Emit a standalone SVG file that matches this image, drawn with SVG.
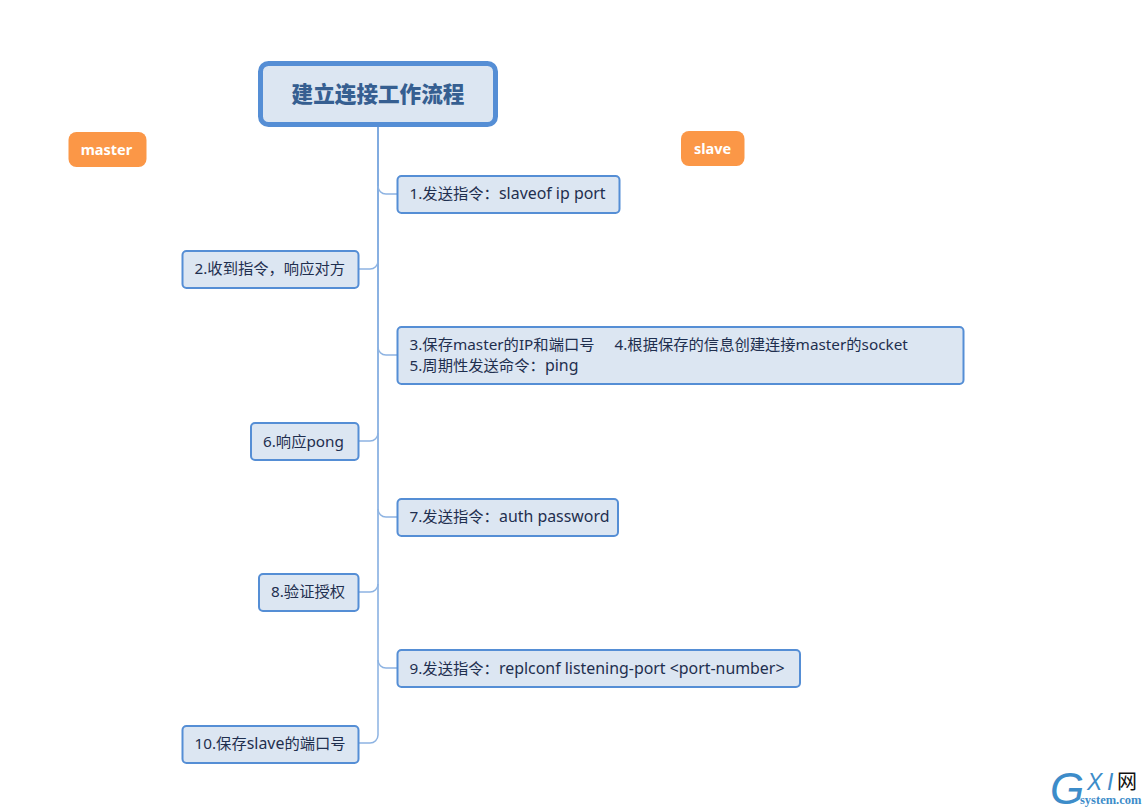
<svg xmlns="http://www.w3.org/2000/svg" width="1147" height="809" viewBox="0 0 1147 809">
<defs><linearGradient id="trunk" gradientUnits="userSpaceOnUse" x1="378" y1="127" x2="378" y2="743"><stop offset="0" stop-color="#558ed5"/><stop offset="1" stop-color="#8db3e2"/></linearGradient></defs>
<style>
text{font-family:"Noto Sans","Noto Sans CJK SC",sans-serif}
.n rect{fill:#dce6f2;stroke:#558ed5;stroke-width:2}
.n text{font-size:15.3px;fill:#1f2f4f}
.n tspan.l{font-size:15.9px}
.t rect{fill:#dce6f2;stroke:#558ed5;stroke-width:5}
.t text{font-size:21.6px;font-weight:900;fill:#365f91;text-anchor:middle}
.o rect{fill:#fb9747}
.o text{font-size:14.5px;font-weight:700;fill:#fff;text-anchor:middle}
.c path{fill:none;stroke:#8db3e2;stroke-width:1.5}
.c path.m{stroke:url(#trunk)}
</style>
<g id="connectors" class="c">
<path class="m" d="M378 127V735"/>
<path d="M378 735a8 8 0 0 1-8 8H359"/>
<path d="M378 186a8 8 0 0 0 8 8H397"/>
<path d="M378 261a8 8 0 0 1-8 8H359"/>
<path d="M378 347a8 8 0 0 0 8 8H397"/>
<path d="M378 433a8 8 0 0 1-8 8H359"/>
<path d="M378 509a8 8 0 0 0 8 8H397"/>
<path d="M378 584a8 8 0 0 1-8 8H359"/>
<path d="M378 660a8 8 0 0 0 8 8H397"/>
</g>
<g id="root" class="t"><rect x="260.500" y="63.500" width="235" height="61" rx="8"/><text x="378" y="101.500">建立连接工作流程</text></g>
<g id="master" class="o"><rect x="68.500" y="132" width="78" height="35" rx="8"/><text x="106.500" y="155">master</text></g>
<g id="slave" class="o"><rect x="681" y="131" width="63.500" height="35" rx="8"/><text x="712.500" y="154">slave</text></g>
<g id="n1" class="n"><rect x="397.500" y="176" width="222" height="37" rx="4"/><text x="409.500" y="199">1.发送指令：<tspan class="l" x="499">slaveof ip port</tspan></text></g>
<g id="n2" class="n"><rect x="182.500" y="251" width="176" height="37" rx="4"/><text x="194.500" y="274">2.收到指令，响应对方</text></g>
<g id="n3" class="n"><rect x="397.500" y="327" width="566" height="57" rx="4"/><text x="409.500" y="350">3.保存master的IP和端口号<tspan x="614.500">4.根据保存的信息创建连接master的socket</tspan></text><text x="409.500" y="371">5.周期性发送命令：<tspan class="l" x="545">ping</tspan></text></g>
<g id="n6" class="n"><rect x="251" y="423" width="107.500" height="37" rx="4"/><text x="263" y="447">6.响应pong</text></g>
<g id="n7" class="n"><rect x="397.500" y="499" width="220.500" height="37" rx="4"/><text x="409.500" y="522">7.发送指令：<tspan class="l" x="499">auth password</tspan></text></g>
<g id="n8" class="n"><rect x="259" y="574" width="99.500" height="37" rx="4"/><text x="271" y="597">8.验证授权</text></g>
<g id="n9" class="n"><rect x="397.500" y="650" width="402.500" height="37" rx="4"/><text x="409.500" y="674">9.发送指令：<tspan class="l" x="499">replconf listening-port &lt;port-number&gt;</tspan></text></g>
<g id="n10" class="n"><rect x="182.500" y="726" width="176" height="37" rx="4"/><text x="194.500" y="749">10.保存<tspan class="l">slave</tspan>的端口号</text></g>
<g id="watermark">
<text x="1050" y="804" style="font-family:'Liberation Sans',sans-serif;font-size:44px;font-style:italic" fill="#3d8cc9">G</text>
<text x="1087" y="790" style="font-family:'Liberation Sans',sans-serif;font-size:23px;font-style:italic" fill="#3d8cc9">X</text>
<text x="1107" y="790" style="font-family:'Liberation Sans',sans-serif;font-size:23px;font-style:italic" fill="#3d8cc9">I</text>
<text x="1117" y="789" style="font-size:20px" fill="#111">网</text>
<text x="1080" y="804" style="font-family:'Liberation Serif',serif;font-size:12.5px;font-weight:700" fill="#3d8cc9">system.com</text>
</g>
</svg>
